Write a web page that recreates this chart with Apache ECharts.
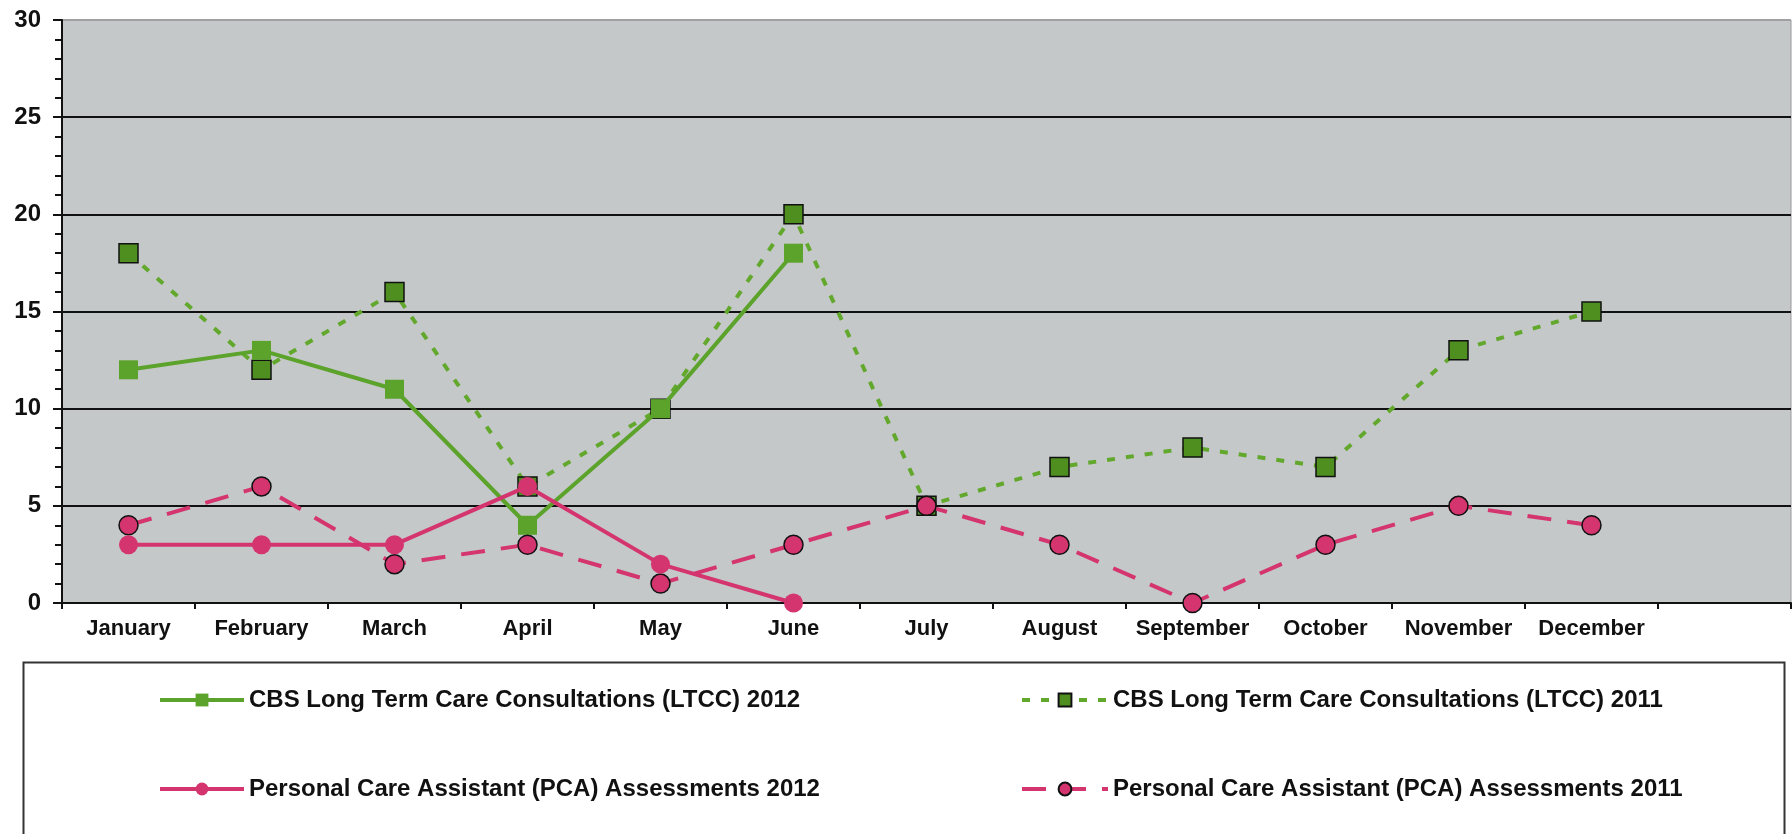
<!DOCTYPE html>
<html>
<head>
<meta charset="utf-8">
<script src="https://cdn.jsdelivr.net/npm/echarts@6/dist/echarts.min.js"></script>
<style>
  html, body { margin: 0; padding: 0; background: #fff; }
  #chart { width: 1792px; height: 834px; }
</style>
</head>
<body>
<div id="chart"></div>
<script>
// months, plus one empty slot at the right end like the original
const months = ['January', 'February', 'March', 'April', 'May', 'June', 'July',
  'August', 'September', 'October', 'November', 'December', ''];

const ltcc2012 = [12, 13, 11, 4, 10, 18, null, null, null, null, null, null, null];
const ltcc2011 = [18, 12, 16, 6, 10, 20, 5, 7, 8, 7, 13, 15, null];
const pca2012 = [3, 3, 3, 6, 2, 0, null, null, null, null, null, null, null];
const pca2011 = [4, 6, 2, 3, 1, 3, 5, 3, 0, 3, 5, 4, null];

const yTicks = [0, 5, 10, 15, 20, 25, 30];

const names = [
  'CBS Long Term Care Consultations (LTCC) 2012',
  'CBS Long Term Care Consultations (LTCC) 2011',
  'Personal Care Assistant (PCA) Assessments 2012',
  'Personal Care Assistant (PCA) Assessments 2011'
];

const green = '#5ba32b';
const greenDark = '#4f8f1f';
const pink = '#d4356f';
const font = '"Liberation Sans", Arial, sans-serif';

const chart = echarts.init(document.getElementById('chart'));

const legendText = { fontFamily: font, fontWeight: 'bold', fontSize: 24, color: '#111' };
function legendAt(name, left, top, w) {
  return {
    data: [name], left: left, top: top, itemWidth: w, itemHeight: 16,
    textStyle: legendText, selectedMode: false, padding: 0,
    lineStyle: { width: 4 }
  };
}

const option = {
  animation: false,
  backgroundColor: '#fff',
  grid: {
    left: 62, top: 20, right: 1, bottom: 231,
    show: true, backgroundColor: '#c5c8c9', borderColor: '#9a9a9a', borderWidth: 1
  },
  legend: [
    legendAt(names[0], 158, 688, 84),
    legendAt(names[1], 1020, 688, 86),
    legendAt(names[2], 158, 777, 84),
    legendAt(names[3], 1020, 777, 86)
  ],
  graphic: [{
    type: 'rect', left: 21, top: 660,
    shape: { width: 1761, height: 220 },
    style: { fill: 'none', stroke: '#333', lineWidth: 2 }
  }],
  xAxis: {
    type: 'category',
    data: months,
    axisLine: { lineStyle: { color: '#111', width: 2 } },
    axisTick: { show: true, length: 6, lineStyle: { color: '#111', width: 2 } },
    axisLabel: { fontFamily: font, fontWeight: 'bold', fontSize: 22, color: '#111', margin: 15, interval: 0 }
  },
  yAxis: {
    type: 'value',
    min: yTicks[0], max: yTicks[yTicks.length - 1], interval: 5,
    axisLine: { show: true, lineStyle: { color: '#111', width: 2 } },
    axisTick: { show: true, length: 9, lineStyle: { color: '#111', width: 2 } },
    minorTick: { show: true, splitNumber: 5, length: 7, lineStyle: { color: '#111', width: 2 } },
    axisLabel: { fontFamily: font, fontWeight: 'bold', fontSize: 24, color: '#111', margin: 21 },
    splitLine: {
      lineStyle: { color: ['#111', '#111', '#111', '#111', '#111', '#111', '#a0a0a0'], width: 2 }
    }
  },
  series: [
    {
      name: names[0], type: 'line', data: ltcc2012, z: 3,
      symbol: 'rect', symbolSize: 19,
      lineStyle: { color: green, width: 4 },
      itemStyle: { color: green }
    },
    {
      name: names[1], type: 'line', data: ltcc2011, z: 2,
      symbol: 'rect', symbolSize: 19,
      lineStyle: { color: '#62a82c', width: 4, type: [8, 11] },
      itemStyle: { color: greenDark, borderColor: '#111', borderWidth: 1.5 }
    },
    {
      name: names[2], type: 'line', data: pca2012, z: 5,
      symbol: 'circle', symbolSize: 19,
      lineStyle: { color: pink, width: 4 },
      itemStyle: { color: pink }
    },
    {
      name: names[3], type: 'line', data: pca2011, z: 4,
      symbol: 'circle', symbolSize: 19,
      lineStyle: { color: pink, width: 4, type: [24, 16] },
      itemStyle: { color: pink, borderColor: '#111', borderWidth: 1.5 }
    }
  ]
};

chart.setOption(option);
</script>
</body>
</html>
